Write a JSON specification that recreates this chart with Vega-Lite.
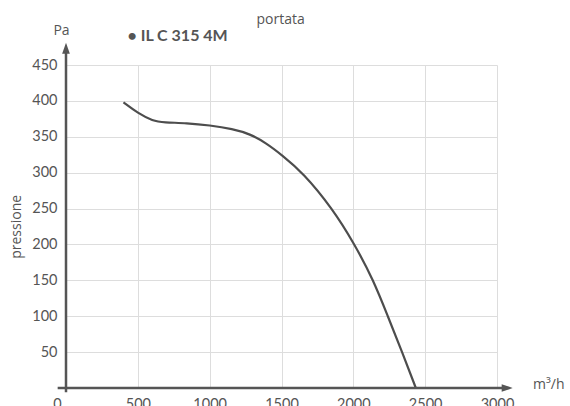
{
  "$schema": "https://vega.github.io/schema/vega-lite/v6.json",
  "width": 431,
  "height": 323,
  "autosize": "none",
  "padding": {"left": 66, "top": 65, "right": 73, "bottom": 18},
  "background": "white",
  "config": {"view": {"stroke": null}, "font": "Lato"},
  "encoding": {
    "x": {
      "field": "q", "type": "quantitative",
      "scale": {"domain": [0, 3000], "nice": false, "zero": false},
      "axis": {
        "values": [0, 500, 1000, 1500, 2000, 2500, 3000], "format": "d",
        "grid": true, "gridColor": "#dddddd", "gridWidth": 1,
        "domain": false, "ticks": false, "labelPadding": 9,
        "labelFontSize": 14.5, "labelColor": "#555555", "labelFont": "Lato",
        "labelFlush": false, "title": null,
        "labelOffset": {"condition": {"test": "datum.value === 0", "value": -9}, "value": 0}
      }
    },
    "y": {
      "field": "p", "type": "quantitative",
      "scale": {"domain": [0, 450], "nice": false, "zero": false},
      "axis": {
        "values": [50, 100, 150, 200, 250, 300, 350, 400, 450], "format": "d",
        "grid": true, "gridColor": "#dddddd", "gridWidth": 1,
        "domain": false, "ticks": false, "labelPadding": 9,
        "labelFontSize": 14.5, "labelColor": "#555555", "labelFont": "Lato",
        "labelFlush": false, "title": null
      }
    }
  },
  "layer": [
    {
      "data": {"values": [
        {"q": 400, "p": 398}, {"q": 500, "p": 383}, {"q": 605, "p": 372},
        {"q": 680, "p": 370}, {"q": 840, "p": 369}, {"q": 1000, "p": 366},
        {"q": 1160, "p": 361}, {"q": 1280, "p": 354}, {"q": 1395, "p": 341},
        {"q": 1500, "p": 325}, {"q": 1650, "p": 300}, {"q": 1855, "p": 250},
        {"q": 2010, "p": 200}, {"q": 2140, "p": 150}, {"q": 2240, "p": 100},
        {"q": 2340, "p": 50}, {"q": 2435, "p": 0}
      ]},
      "mark": {"type": "line", "interpolate": "basis", "color": "#4d4d4d", "strokeWidth": 2.2}
    },
    {
      "data": {"values": [
        {"q": -58, "p": 0, "q2": 3080, "p2": 0},
        {"q": 0, "p": -6, "q2": 0, "p2": 470}
      ]},
      "mark": {"type": "rule", "color": "#555555", "strokeWidth": 2.5},
      "encoding": {"x2": {"field": "q2"}, "y2": {"field": "p2"}}
    },
    {
      "data": {"values": [{"q": 3109, "p": 0}]},
      "mark": {"type": "point", "shape": "M0,0L-2,-0.7L-2,0.7Z", "size": 121, "filled": true, "color": "#555555", "opacity": 1}
    },
    {
      "data": {"values": [{"q": 0, "p": 481}]},
      "mark": {"type": "point", "shape": "M0,0L-0.7,2L0.7,2Z", "size": 121, "filled": true, "color": "#555555", "opacity": 1}
    },
    {
      "data": {"values": [
        {"q": -31, "p": 497.6, "t": "Pa"},
        {"q": 1494, "p": 512, "t": "portata"},
        {"q": 3360, "p": 4, "t": "m³/h"}
      ]},
      "mark": {"type": "text", "font": "Open Sans", "fontSize": 14, "color": "#555555", "align": "center", "baseline": "middle"},
      "encoding": {"text": {"field": "t"}}
    },
    {
      "data": {"values": [{"q": -340, "p": 224.5, "t": "pressione"}]},
      "mark": {"type": "text", "font": "Open Sans", "fontSize": 14, "color": "#555555", "align": "center", "baseline": "middle", "angle": 270},
      "encoding": {"text": {"field": "t"}}
    },
    {
      "data": {"values": [{"q": 428, "p": 491, "t": "• IL C 315 4M"}]},
      "mark": {"type": "text", "font": "Lato", "fontWeight": "bold", "fontSize": 16, "color": "#555555", "align": "left", "baseline": "middle"},
      "encoding": {"text": {"field": "t"}}
    }
  ]
}
